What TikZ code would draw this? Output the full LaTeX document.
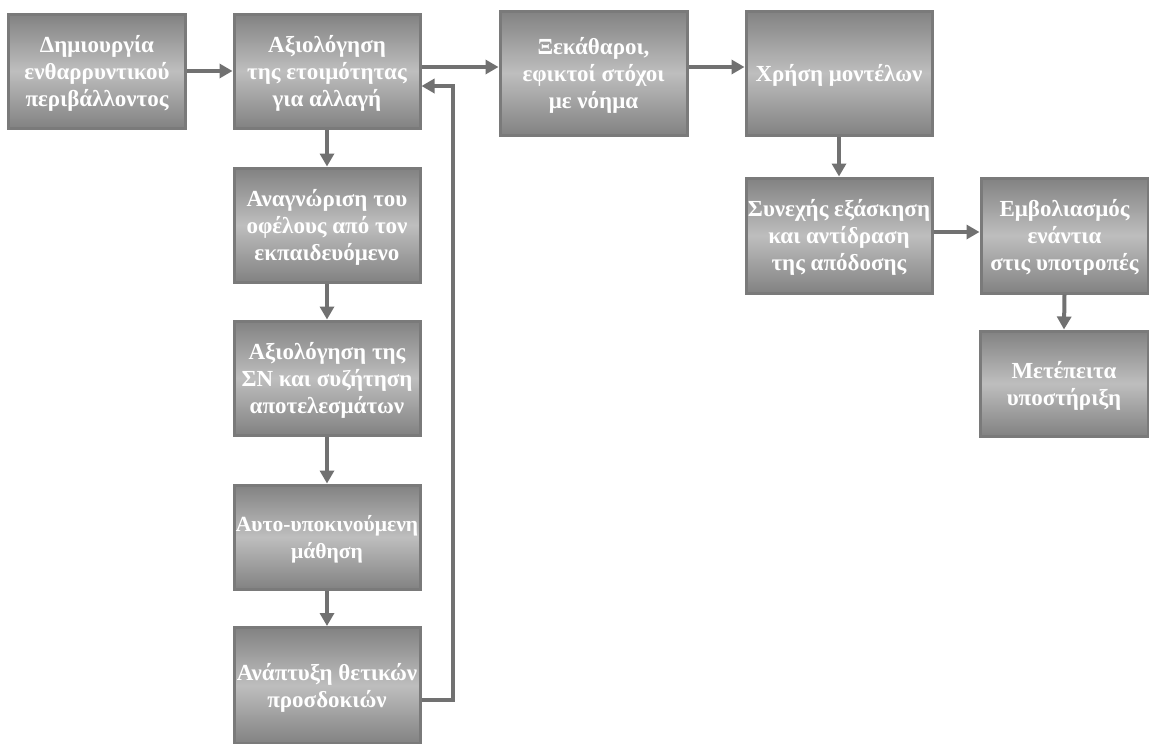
\documentclass[tikz,border=0pt]{standalone}
\usepackage{fontspec}
\setmainfont{Liberation Serif}
\usetikzlibrary{arrows.meta}
\definecolor{boxedge}{HTML}{7A7A7A}
\definecolor{shadeout}{HTML}{828282}
\definecolor{shadein}{HTML}{BEBEBE}
\definecolor{linkgray}{HTML}{717171}
\begin{document}
\begin{tikzpicture}[x=1pt,y=-1pt,
  % fixed-size shaded box; its caption is a centred label so long lines never resize it
  stepbox/.style 2 args={rectangle, draw=boxedge, line width=3pt,
    top color=shadeout, bottom color=shadeout, middle color=shadein,
    minimum width=#1, minimum height=#2, inner sep=0pt},
  boxtext/.style={text=white, align=center, inner sep=0pt, yshift=-2pt,
    font=\bfseries\fontsize{23}{27}\selectfont},
  narrowtext/.style={boxtext, font=\bfseries\fontsize{21.6}{27}\selectfont},
  link/.style={draw=linkgray, line width=4pt,
    -{Triangle[length=13pt,width=14pt]}}]
\useasboundingbox[fill=white] (0,0) rectangle (1149,744);

% top row
\node[stepbox={177pt}{114pt}, label={[boxtext]center:Δημιουργία\\ενθαρρυντικού\\περιβάλλοντος}] (b1) at (97,71) {};
\node[stepbox={186pt}{114pt}, label={[boxtext]center:Αξιολόγηση\\της ετοιμότητας\\για αλλαγή}] (b2) at (327,71) {};
\node[stepbox={187pt}{124pt}, label={[boxtext]center:Ξεκάθαροι,\\εφικτοί στόχοι\\με νόημα}] (b3) at (593.5,73) {};
\node[stepbox={186pt}{124pt}, label={[boxtext]center:Χρήση μοντέλων}] (b4) at (839,73) {};

% left column
\node[stepbox={186pt}{114pt}, label={[boxtext]center:Αναγνώριση του\\οφέλους από τον\\εκπαιδευόμενο}] (b5) at (327,225) {};
\node[stepbox={186pt}{114pt}, label={[boxtext]center:Αξιολόγηση της\\ΣΝ και συζήτηση\\αποτελεσμάτων}] (b6) at (327,378) {};
\node[stepbox={186pt}{104pt}, label={[narrowtext]center:Αυτο-υποκινούμενη\\μάθηση}] (b7) at (327,537) {};
\node[stepbox={186pt}{116pt}, label={[boxtext]center:Ανάπτυξη θετικών\\προσδοκιών}] (b8) at (327,685.5) {};

% right group
\node[stepbox={186pt}{115pt}, label={[boxtext]center:Συνεχής εξάσκηση\\και αντίδραση\\της απόδοσης}] (b9) at (839,235.5) {};
\node[stepbox={167pt}{115pt}, label={[boxtext]center:Εμβολιασμός\\ενάντια\\στις υποτροπές}] (b10) at (1064.5,235.5) {};
\node[stepbox={168pt}{105pt}, label={[boxtext]center:Μετέπειτα\\υποστήριξη}] (b11) at (1064,383.5) {};

% connectors
\draw[link] (b1.east) -- (b2.west);
\draw[link] ([yshift=4pt]b2.east) -- ([yshift=4pt]b2.east -| b3.west);
\draw[link] ([yshift=6pt]b3.east) -- ([yshift=6pt]b3.east -| b4.west);
\draw[link] (b4.south) -- (b9.north);
\draw[link] ([yshift=3.5pt]b9.east) -- ([yshift=3.5pt]b9.east -| b10.west);
\draw[link] (b10.south) -- (b11.north);
\draw[link] (b2.south) -- (b5.north);
\draw[link] (b5.south) -- (b6.north);
\draw[link] (b6.south) -- (b7.north);
\draw[link] (b7.south) -- (b8.north);
\draw[link] ([yshift=-14.5pt]b8.east) -- ++(31,0) |- ([yshift=-15pt]b2.east);
\end{tikzpicture}
\end{document}
